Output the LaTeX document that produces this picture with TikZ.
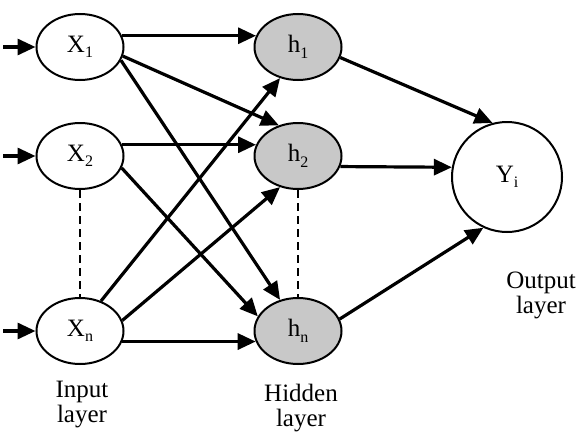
\documentclass[tikz,border=0pt]{standalone}
\usepackage{fontspec}
\setmainfont{Liberation Serif}
\usepackage{xcolor}
\usepackage{tikz}
\usetikzlibrary{positioning,arrows.meta,shapes.geometric}
\newcommand{\nsub}[1]{\raisebox{-0.22em}{\fontsize{16}{16}\selectfont #1}}

\begin{document}
\begin{tikzpicture}[x=1pt,y=-1pt]
	\definecolor{hidgray}{RGB}{200,200,200}
	\tikzset{
		innode/.style={
			shape=ellipse,
			draw=black,
			line width=2pt,
			fill=white,
			minimum width=87pt,
			minimum height=66pt,
			inner sep=0pt,
			font=\fontsize{25}{25}\selectfont
		},
		hidnode/.style={innode, fill=hidgray},
		outnode/.style={innode, shape=circle, minimum size=110pt},
		conn/.style={draw=black, line width=3.2pt, -{Triangle[length=18pt,width=16pt]}},
		gap/.style={draw=black, line width=2pt, dash pattern=on 8pt off 5pt},
		laylabel/.style={align=center, inner sep=0pt, anchor=north, font=\fontsize{25}{25}\selectfont}
	}
	\useasboundingbox (0,0) rectangle (577,444);
	
	% Ba lớp: vào, ẩn, ra
	\node[innode] (X1) at (80,47) {X\nsub{1}};
	\node[innode] (X2) at (80,156) {X\nsub{2}};
	\node[innode] (Xn) at (80,331) {X\nsub{n}};
	\node[hidnode] (h1) at (298,47) {h\nsub{1}};
	\node[hidnode] (h2) at (298,156) {h\nsub{2}};
	\node[hidnode] (hn) at (298,331) {h\nsub{n}};
	\node[outnode] (Y) at (507,177) {Y\nsub{i}};
	
	\coordinate (in1) at (3,47);
	\coordinate (in2) at (3,156);
	\coordinate (inn) at (3,331);
	
	\node[laylabel] (inlab) at (82,381) {Input\\layer};
	\node[laylabel] (hidlab) at (301,384) {Hidden\\layer};
	\node[laylabel] (outlab) at (541,272) {Output\\layer};
	
	\draw[conn] (in1) -- (X1.west);
	\draw[conn] (in2) -- (X2.west);
	\draw[conn] (inn) -- (Xn.west);
	
	\draw[conn] (X1.15) -- (h1.165);
	\draw[conn] (X1.-12) -- (h2.122);
	\draw[conn] (X1.-18) -- (hn.120);
	\draw[conn] (X2.15) -- (h2.165);
	\draw[conn] (X2.-16) -- (hn.160);
	\draw[conn] (Xn.55) -- (h1.-120);
	\draw[conn] (Xn.14) -- (h2.-120);
	\draw[conn] (Xn.-14) -- (hn.-166);
	
	\draw[conn] (h1.-14) -- (Y.105);
	\draw[conn] (h2.-14) -- (Y.170);
	\draw[conn] (hn.16) -- (Y.245);
	
	\draw[gap] (X2.south) -- (Xn.north);
	\draw[gap] (h2.south) -- (hn.north);
\end{tikzpicture}
\end{document}
